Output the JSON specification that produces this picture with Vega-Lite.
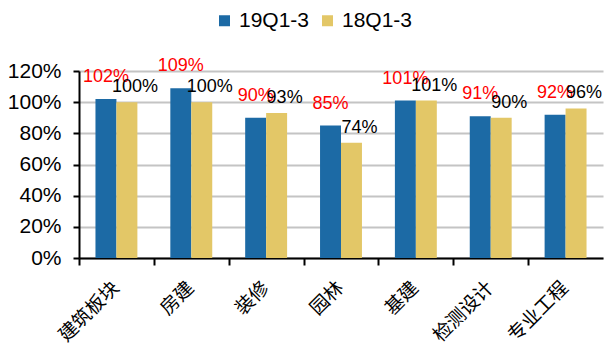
{
  "$schema": "https://vega.github.io/schema/vega-lite/v6.json",
  "width": 524,
  "height": 187,
  "autosize": "none",
  "padding": {"left": 79, "top": 71, "right": 4, "bottom": 89},
  "background": "white",
  "config": {
    "view": {"stroke": null},
    "font": "Liberation Sans"
  },
  "data": {
    "values": [
      {"category": "建筑板块", "series": "19Q1-3", "value": 1.02},
      {"category": "建筑板块", "series": "18Q1-3", "value": 1.00},
      {"category": "房建", "series": "19Q1-3", "value": 1.09},
      {"category": "房建", "series": "18Q1-3", "value": 1.00},
      {"category": "装修", "series": "19Q1-3", "value": 0.90},
      {"category": "装修", "series": "18Q1-3", "value": 0.93},
      {"category": "园林", "series": "19Q1-3", "value": 0.85},
      {"category": "园林", "series": "18Q1-3", "value": 0.74},
      {"category": "基建", "series": "19Q1-3", "value": 1.01},
      {"category": "基建", "series": "18Q1-3", "value": 1.01},
      {"category": "检测设计", "series": "19Q1-3", "value": 0.91},
      {"category": "检测设计", "series": "18Q1-3", "value": 0.90},
      {"category": "专业工程", "series": "19Q1-3", "value": 0.92},
      {"category": "专业工程", "series": "18Q1-3", "value": 0.96}
    ]
  },
  "encoding": {
    "x": {
      "field": "category",
      "type": "nominal",
      "sort": ["建筑板块", "房建", "装修", "园林", "基建", "检测设计", "专业工程"],
      "scale": {"paddingInner": 0.44, "paddingOuter": 0.22},
      "axis": {
        "title": null,
        "domainColor": "black",
        "domainWidth": 2,
        "tickColor": "black",
        "tickWidth": 2,
        "tickSize": 7,
        "tickOffset": -37.4,
        "labelOffset": 30,
        "labelAngle": -45,
        "labelFont": "Noto Sans CJK SC",
        "labelFontSize": 19,
        "labelColor": "black",
        "labelPadding": 13
      }
    },
    "xOffset": {"field": "series", "type": "nominal", "sort": ["19Q1-3", "18Q1-3"]},
    "y": {
      "field": "value",
      "type": "quantitative",
      "scale": {"domain": [0, 1.2], "nice": false},
      "axis": {
        "title": null,
        "values": [0, 0.2, 0.4, 0.6, 0.8, 1.0, 1.2],
        "format": ".0%",
        "domainColor": "black",
        "domainWidth": 2,
        "tickColor": "black",
        "tickWidth": 2,
        "tickSize": 6,
        "gridColor": "#C4C4C4",
        "gridWidth": 2,
        "labelFontSize": 21,
        "labelColor": "black",
        "labelPadding": 12
      }
    }
  },
  "layer": [
    {
      "mark": {"type": "bar"},
      "encoding": {
        "color": {
          "field": "series",
          "type": "nominal",
          "scale": {"domain": ["19Q1-3", "18Q1-3"], "range": ["#1C6AA5", "#E3C767"]},
          "legend": {
            "title": null,
            "orient": "none",
            "direction": "horizontal",
            "legendX": 135,
            "legendY": -61,
            "symbolType": "square",
            "symbolSize": 121,
            "symbolStrokeWidth": 0,
            "labelFontSize": 21,
            "labelColor": "black",
            "labelOffset": 4,
            "columnPadding": 7
          }
        }
      }
    },
    {
      "transform": [{"filter": "datum.series === '19Q1-3'"}],
      "mark": {"type": "text", "baseline": "alphabetic", "dy": -17, "fontSize": 18, "color": "#FF0000"},
      "encoding": {"text": {"field": "value", "type": "quantitative", "format": ".0%"}}
    },
    {
      "transform": [{"filter": "datum.series === '18Q1-3'"}],
      "mark": {"type": "text", "baseline": "alphabetic", "dx": 8, "dy": -10, "fontSize": 18, "color": "black"},
      "encoding": {"text": {"field": "value", "type": "quantitative", "format": ".0%"}}
    }
  ]
}
